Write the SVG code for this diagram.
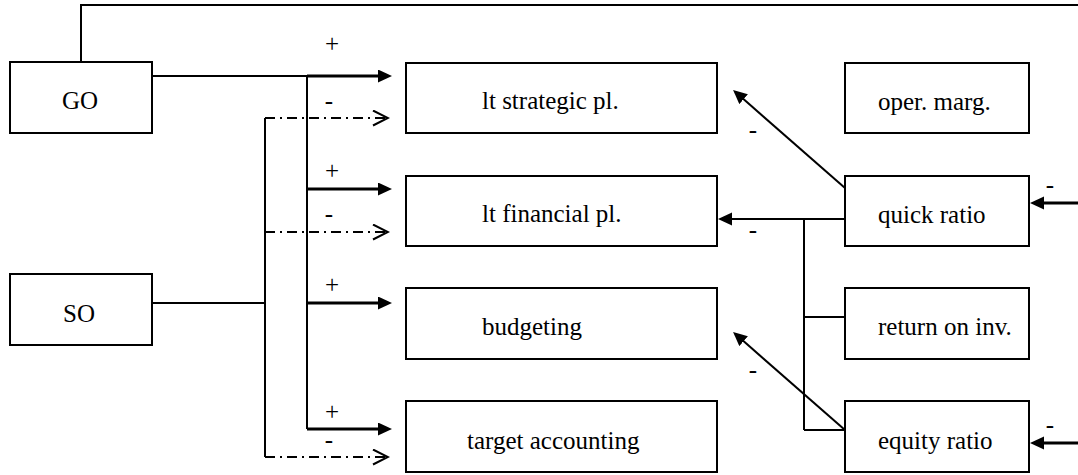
<svg xmlns="http://www.w3.org/2000/svg" width="1078" height="475" viewBox="0 0 1078 475">
  <defs>
    <style>
      .box { fill: #fff; stroke: #000; stroke-width: 2; }
      .lbl { font-family: 'Liberation Serif', 'Times New Roman', serif; font-size: 25px; fill: #000; }
      .sign { font-family: 'Liberation Serif', 'Times New Roman', serif; font-size: 25px; fill: #000; text-anchor: middle; }
      .ln { fill: none; stroke: #000; stroke-width: 2; }
      .thick { fill: none; stroke: #000; stroke-width: 3; }
      .dd { fill: none; stroke: #000; stroke-width: 2; stroke-dasharray: 10 5 2 5; }
    </style>
    <!-- filled arrowhead, tip 10px beyond the line end -->
    <marker id="arrow" markerUnits="userSpaceOnUse" markerWidth="16" markerHeight="14" refX="4" refY="6.5" orient="auto">
      <path d="M0,0 L14,6.5 L0,13 z" fill="#000"/>
    </marker>
    <!-- open chevron arrowhead, tip at the line end -->
    <marker id="chev" markerUnits="userSpaceOnUse" markerWidth="18" markerHeight="18" refX="16" refY="8.5" orient="auto">
      <path d="M1,1 L16,8.5 L1,16" fill="none" stroke="#000" stroke-width="2"/>
    </marker>
  </defs>

  <g id="connectors">
    <!-- GO feedback line along the top edge -->
    <polyline class="ln" points="81,62 81,5 1078,5"/>
    <!-- GO to positive bus -->
    <line class="ln" x1="152" y1="76" x2="307" y2="76"/>
    <line class="ln" x1="307" y1="76" x2="307" y2="429"/>
    <line class="thick" x1="307" y1="76" x2="382" y2="76" marker-end="url(#arrow)"/>
    <line class="thick" x1="307" y1="189" x2="382" y2="189" marker-end="url(#arrow)"/>
    <line class="thick" x1="307" y1="303" x2="382" y2="303" marker-end="url(#arrow)"/>
    <line class="thick" x1="307" y1="429" x2="382" y2="429" marker-end="url(#arrow)"/>
    <!-- SO to negative bus -->
    <line class="ln" x1="152" y1="303" x2="265" y2="303"/>
    <line class="ln" x1="265" y1="118" x2="265" y2="457"/>
    <line class="dd" x1="265" y1="118" x2="388" y2="118" marker-end="url(#chev)"/>
    <line class="dd" x1="265" y1="232" x2="388" y2="232" marker-end="url(#chev)"/>
    <line class="dd" x1="265" y1="457" x2="388" y2="457" marker-end="url(#chev)"/>

    <!-- ratio feedback -->
    <line class="ln" x1="845" y1="188" x2="740.6" y2="96.6" marker-end="url(#arrow)"/>
    <line class="ln" x1="845" y1="219" x2="728" y2="219" marker-end="url(#arrow)"/>
    <line class="ln" x1="804" y1="219" x2="804" y2="430"/>
    <line class="ln" x1="804" y1="317" x2="845" y2="317"/>
    <line class="ln" x1="804" y1="430" x2="845" y2="430"/>
    <line class="ln" x1="845" y1="430" x2="740.6" y2="338.6" marker-end="url(#arrow)"/>
    <line class="thick" x1="1078" y1="203" x2="1040" y2="203" marker-end="url(#arrow)"/>
    <line class="thick" x1="1078" y1="443" x2="1040" y2="443" marker-end="url(#arrow)"/>

    <!-- polarity signs -->
    <text class="sign" x="332" y="52">+</text>
    <text class="sign" x="329" y="109">-</text>
    <text class="sign" x="332" y="179">+</text>
    <text class="sign" x="329" y="222">-</text>
    <text class="sign" x="332" y="293">+</text>
    <text class="sign" x="332" y="420">+</text>
    <text class="sign" x="329" y="448">-</text>
    <text class="sign" x="753" y="138">-</text>
    <text class="sign" x="753" y="238">-</text>
    <text class="sign" x="753" y="378">-</text>
    <text class="sign" x="1050" y="193">-</text>
    <text class="sign" x="1050" y="433">-</text>
  </g>

  <g id="go">
    <rect class="box" x="10" y="62" width="142" height="71"/>
    <text class="lbl" x="80" y="109" text-anchor="middle">GO</text>
  </g>
  <g id="so">
    <rect class="box" x="10" y="274" width="142" height="71"/>
    <text class="lbl" x="79" y="322" text-anchor="middle">SO</text>
  </g>

  <g id="lt-strategic">
    <rect class="box" x="406" y="63" width="311" height="70"/>
    <text class="lbl" x="482" y="109">lt strategic pl.</text>
  </g>
  <g id="lt-financial">
    <rect class="box" x="406" y="176" width="311" height="70"/>
    <text class="lbl" x="482" y="222">lt financial pl.</text>
  </g>
  <g id="budgeting">
    <rect class="box" x="406" y="288" width="311" height="71"/>
    <text class="lbl" x="482" y="335">budgeting</text>
  </g>
  <g id="target-accounting">
    <rect class="box" x="406" y="401" width="311" height="71"/>
    <text class="lbl" x="467" y="449">target accounting</text>
  </g>

  <g id="oper-marg">
    <rect class="box" x="845" y="63" width="184" height="70"/>
    <text class="lbl" x="878" y="110">oper. marg.</text>
  </g>
  <g id="quick-ratio">
    <rect class="box" x="845" y="176" width="184" height="70"/>
    <text class="lbl" x="878" y="223">quick ratio</text>
  </g>
  <g id="return-on-inv">
    <rect class="box" x="845" y="288" width="184" height="71"/>
    <text class="lbl" x="878" y="335">return on inv.</text>
  </g>
  <g id="equity-ratio">
    <rect class="box" x="845" y="401" width="184" height="71"/>
    <text class="lbl" x="878" y="449">equity ratio</text>
  </g>
</svg>
